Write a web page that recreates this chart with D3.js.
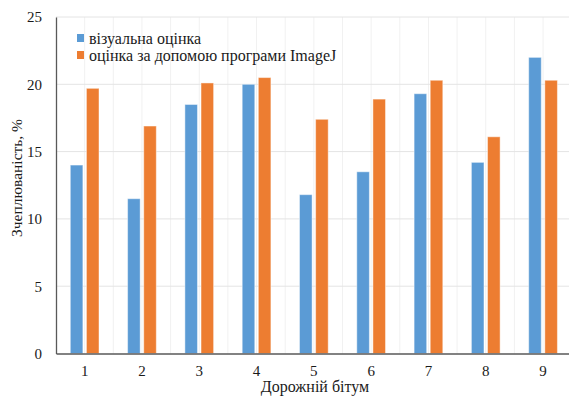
<!DOCTYPE html>
<html>
<head>
<meta charset="utf-8">
<script src="https://cdn.jsdelivr.net/npm/d3@7"></script>
<style>
  html, body { margin: 0; padding: 0; background: #fff; }
  svg { display: block; }
  svg text { font-family: "Liberation Serif", "Times New Roman", serif !important; fill: #1a1a1a; }
</style>
</head>
<body>
<svg id="chart" width="569" height="396"></svg>
<script>
// Bitumen samples and adhesion estimates, %
const categories = ["1", "2", "3", "4", "5", "6", "7", "8", "9"];
const seriesNames = ["візуальна оцінка", "оцінка за допомою програми ImageJ"];
const visualValues = [14.0, 11.5, 18.5, 20.0, 11.8, 13.5, 19.3, 14.2, 22.0];
const imagejValues = [19.7, 16.9, 20.1, 20.5, 17.4, 18.9, 20.3, 16.1, 20.3];
const yTicks = [0, 5, 10, 15, 20, 25];
const colors = ["#5B9BD5", "#ED7D31"];
const xTitle = "Дорожній бітум";
const yTitle = "Зчеплюваність, %";

const svg = d3.select("#chart");
const plotLeft = 56, plotRight = 571.7, plotTop = 17, plotBottom = 353.5;

const x = d3.scaleBand().domain(categories).range([plotLeft, plotRight]).padding(0);
const x1 = d3.scaleBand().domain(seriesNames).range([14.3, 43]).paddingInner(0.22).paddingOuter(0);
const y = d3.scaleLinear().domain([0, 25]).range([plotBottom, plotTop]);

// faint vertical guides at band centres and band edges
const half = x.bandwidth() / 2;
const vLines = [];
categories.forEach(c => { vLines.push(x(c)); vLines.push(x(c) + half); });
vLines.push(plotRight);
svg.append("g").selectAll("line").data(vLines.filter(v => v > plotLeft)).join("line")
  .attr("x1", d => d).attr("x2", d => d)
  .attr("y1", plotTop).attr("y2", plotBottom)
  .attr("stroke", "#f1f1f1").attr("stroke-width", 1);

// horizontal gridlines
svg.append("g").selectAll("line").data(yTicks.filter(t => t > 0)).join("line")
  .attr("x1", plotLeft).attr("x2", 569)
  .attr("y1", d => y(d)).attr("y2", d => y(d))
  .attr("stroke", "#e4e4e4").attr("stroke-width", 1);

// bars
const rows = categories.map((c, i) => ({ cat: c, vals: [visualValues[i], imagejValues[i]] }));
const groups = svg.append("g").selectAll("g").data(rows).join("g")
  .attr("transform", d => `translate(${x(d.cat)},0)`);
groups.selectAll("rect").data(d => d.vals.map((v, k) => ({ key: seriesNames[k], v, k }))).join("rect")
  .attr("x", d => x1(d.key))
  .attr("width", x1.bandwidth())
  .attr("y", d => y(d.v))
  .attr("height", d => y(0) - y(d.v))
  .attr("fill", d => colors[d.k])
  .attr("stroke", "#ffffff").attr("stroke-opacity", 0.45).attr("stroke-width", 1);

// axes
const yAxis = d3.axisLeft(y).tickValues(yTicks).tickSize(0).tickPadding(14).tickFormat(d3.format("d"));
const gy = svg.append("g").attr("transform", `translate(${plotLeft},0)`).call(yAxis);
gy.select(".domain").attr("stroke", "#595959").attr("stroke-width", 1.3);
gy.selectAll("text").attr("font-size", 15).attr("fill", "#1a1a1a");

const xAxis = d3.axisBottom(x).tickSize(0).tickPadding(12);
const gx = svg.append("g").attr("transform", `translate(0,${plotBottom})`).call(xAxis);
gx.select(".domain").attr("stroke", "#595959").attr("stroke-width", 1.3);
gx.selectAll("text").attr("font-size", 15).attr("fill", "#1a1a1a");

// axis titles
svg.append("text").attr("x", 315).attr("y", 392).attr("text-anchor", "middle")
  .attr("font-size", 16).text(xTitle);
svg.append("text").attr("transform", "translate(22,178) rotate(-90)").attr("text-anchor", "middle")
  .attr("font-size", 15.5).text(yTitle);

// legend
const legend = svg.append("g").attr("transform", "translate(77,34)");
seriesNames.forEach((name, i) => {
  const row = legend.append("g").attr("transform", `translate(0,${i * 17})`);
  row.append("rect").attr("width", 7).attr("height", 8).attr("fill", colors[i]);
  row.append("text").attr("x", 12).attr("y", 10).attr("font-size", 16).text(name);
});
</script>
</body>
</html>
